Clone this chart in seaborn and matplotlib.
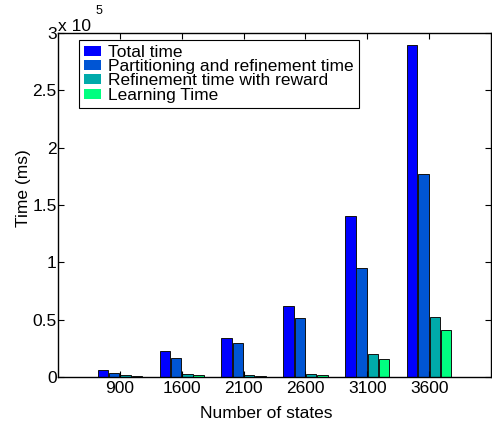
import numpy as np
import pandas as pd
import seaborn as sns
import matplotlib.pyplot as plt
from matplotlib.ticker import FuncFormatter

states = ['900', '1600', '2100', '2600', '3100', '3600']
total_time = [6100, 22700, 34300, 61600, 140600, 290000]
partition_time = [3700, 16800, 29400, 51700, 94800, 177000]
refine_reward = [1700, 2600, 1500, 2900, 20000, 52600]
learning_time = [1100, 2000, 1000, 2000, 15700, 41000]
series = ['Total time', 'Partitioning and refinement time',
          'Refinement time with reward', 'Learning Time']
colors = ['#0000ff', '#0055d4', '#00aaaa', '#00ff80']

rows = []
for name, vals in zip(series, [total_time, partition_time, refine_reward, learning_time]):
    for s, v in zip(states, vals):
        rows.append({'states': s, 'time': v, 'series': name})
df = pd.DataFrame(rows)

plt.rcParams['font.family'] = ['Liberation Sans', 'DejaVu Sans']
plt.rcParams['font.size'] = 12.5

fig = plt.figure(figsize=(4.92, 4.24), dpi=100)
ax = fig.add_axes([0.118, 0.111, 0.880, 0.811])

sns.barplot(data=df, x='states', y='time', hue='series', palette=colors,
            hue_order=series, order=states, width=0.73, gap=0.08,
            saturation=1, edgecolor='#111111', linewidth=0.7, ax=ax)

ax.set_xlim(-1, 6)
ax.set_ylim(0, 300000)
ax.set_yticks(np.arange(0, 300001, 50000))
ax.yaxis.set_major_formatter(FuncFormatter(lambda v, p: ('%g' % (v / 1e5))))
ax.tick_params(direction='in', top=True, right=True, length=4, width=0.8)
ax.tick_params(axis='x', pad=3)
ax.tick_params(axis='y', pad=1)
for sp in ax.spines.values():
    sp.set_color('k')
    sp.set_linewidth(1)

ax.set_xlabel('Number of states')
ax.set_ylabel('Time (ms)')
ax.xaxis.set_label_coords(0.48, -0.085)
ax.yaxis.set_label_coords(-0.062, 0.55)

ax.text(0.0, 0.997, 'x 10', transform=ax.transAxes, ha='left', va='bottom')
ax.text(0.086, 1.048, '5', transform=ax.transAxes, ha='left', va='bottom', fontsize=9)

leg = ax.legend(loc='upper left', bbox_to_anchor=(0.0485, 0.98), borderaxespad=0,
                fancybox=False, edgecolor='k', framealpha=1, handlelength=1.0,
                handleheight=0.5, handletextpad=0.4, labelspacing=-0.04,
                borderpad=0.28)
leg.get_frame().set_linewidth(0.8)
for h in leg.legend_handles:
    h.set_edgecolor('none')

fig.savefig('out.png', dpi=100)
